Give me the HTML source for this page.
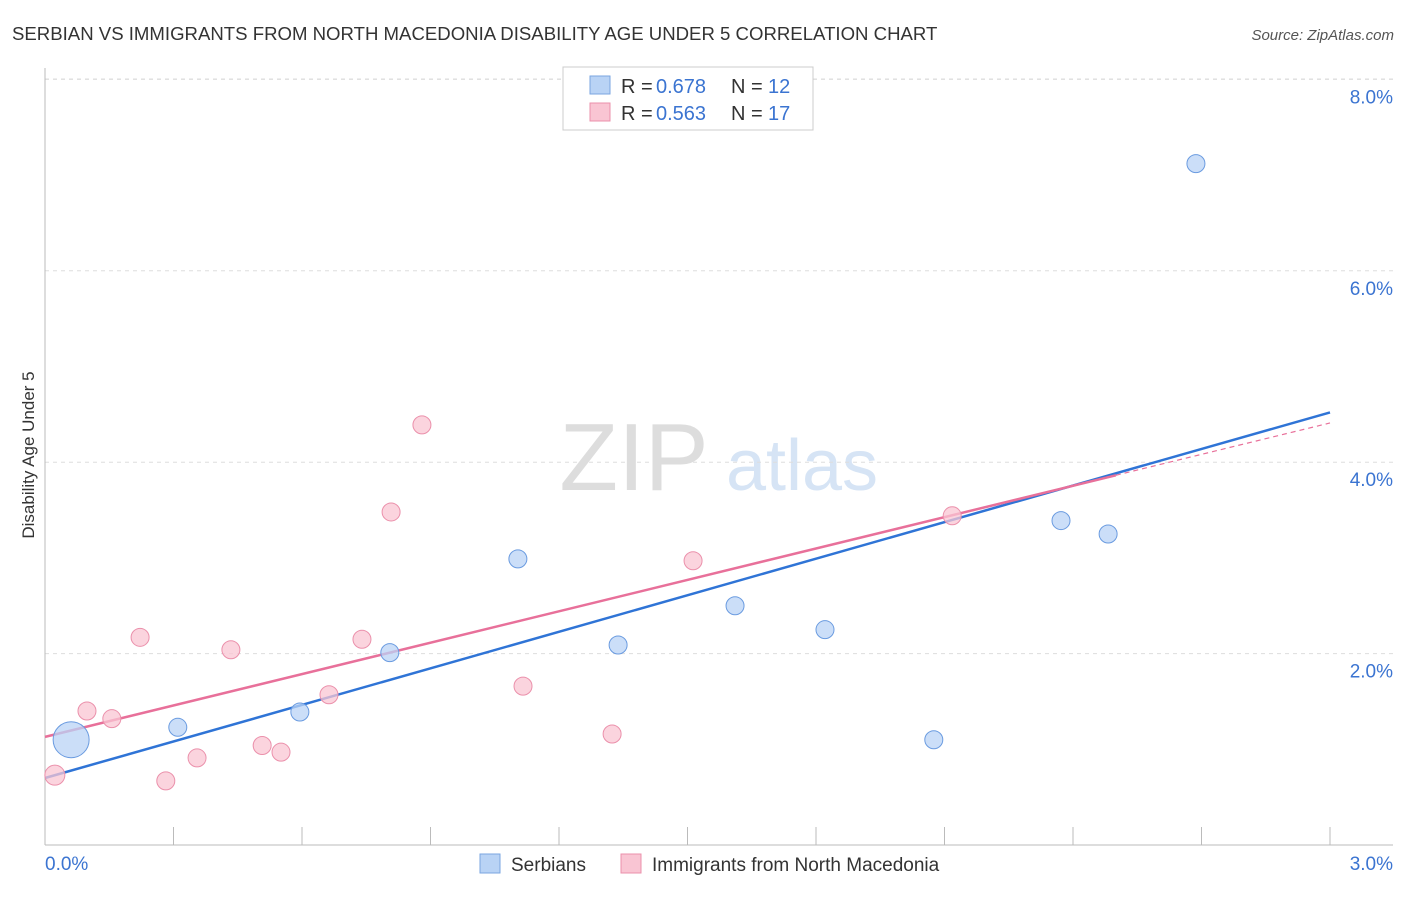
<!DOCTYPE html>
<html><head><meta charset="utf-8"><style>
body{margin:0;background:#fff;font-family:"Liberation Sans",sans-serif;}
svg text{font-family:"Liberation Sans",sans-serif;}
</style></head><body>
<svg id="chart" width="1406" height="892">
<text x="12" y="40" font-size="18.6" fill="#333">SERBIAN VS IMMIGRANTS FROM NORTH MACEDONIA DISABILITY AGE UNDER 5 CORRELATION CHART</text>
<text x="1394" y="40" font-size="15" fill="#555" font-style="italic" text-anchor="end">Source: ZipAtlas.com</text>
<text x="634" y="490" font-size="96" fill="#ddd" font-family="Liberation Serif" text-anchor="middle">ZIP</text>
<text x="802" y="490" font-size="72" fill="#d6e4f5" text-anchor="middle">atlas</text>
<g id="grid"></g>
<g id="axes"></g>
<g id="lines"></g>
<g id="points"></g>
<text x="34" y="455" font-size="17" fill="#333" text-anchor="middle" transform="rotate(-90 34 455)">Disability Age Under 5</text>
<g>
<rect x="563" y="67" width="250" height="63" fill="#fff" stroke="#ccc"/>
<rect x="590" y="76" width="20" height="18" fill="#b9d3f5" stroke="#7aa6e0"/>
<text x="621" y="93" font-size="20" fill="#333">R =</text>
<text x="656" y="93" font-size="20" fill="#3b74d1">0.678</text>
<text x="731" y="93" font-size="20" fill="#333">N =</text>
<text x="768" y="93" font-size="20" fill="#3b74d1">12</text>
<rect x="590" y="103" width="20" height="18" fill="#f9c5d3" stroke="#eb90ab"/>
<text x="621" y="120" font-size="20" fill="#333">R =</text>
<text x="656" y="120" font-size="20" fill="#3b74d1">0.563</text>
<text x="731" y="120" font-size="20" fill="#333">N =</text>
<text x="768" y="120" font-size="20" fill="#3b74d1">17</text>
</g>
<g>
<rect x="480" y="854" width="20" height="19" fill="#b9d3f5" stroke="#7aa6e0"/>
<text x="511" y="871" font-size="19" fill="#333">Serbians</text>
<rect x="621" y="854" width="20" height="19" fill="#f9c5d3" stroke="#eb90ab"/>
<text x="652" y="871" font-size="19" fill="#333">Immigrants from North Macedonia</text>
</g>
</svg>
<script>
const xTicks=[0,0.3,0.6,0.9,1.2,1.5,1.8,2.1,2.4,2.7,3.0];
const yTicks=[2,4,6,8];
const yTickLabels=["2.0%","4.0%","6.0%","8.0%"];
const serbX=[0.061,0.31,0.595,0.805,1.104,1.338,1.611,1.821,2.075,2.372,2.482,2.687];
const serbY=[1.10,1.23,1.39,2.01,2.99,2.09,2.50,2.25,1.10,3.39,3.25,7.12];
const serbR=[18,9,9,9,9,9,9,9,9,9,9,9];
const macX=[0.023,0.098,0.156,0.222,0.282,0.355,0.434,0.507,0.551,0.663,0.740,0.808,0.880,1.116,1.324,1.513,2.118];
const macY=[0.73,1.40,1.32,2.17,0.67,0.91,2.04,1.04,0.97,1.57,2.15,3.48,4.39,1.66,1.16,2.97,3.44];
const macR=[10,9,9,9,9,9,9,9,9,9,9,9,9,9,9,9,9];
const serbTrend=[0.70,4.52];
const macTrend=[1.13,4.41];
const macSolidEnd=2.5;
const X=v=>45+v/3*1285;
const Y=v=>845-v*95.7;
const NS="http://www.w3.org/2000/svg";
function mk(p,t,a){const e=document.createElementNS(NS,t);for(const k in a)e.setAttribute(k,a[k]);p.appendChild(e);return e;}
const grid=document.getElementById('grid'),axes=document.getElementById('axes'),lines=document.getElementById('lines'),pts=document.getElementById('points');
yTicks.forEach((v,i)=>{
 const l=mk(grid,'line',{x1:45,x2:1393,y1:Y(v),y2:Y(v),stroke:'#ddd','stroke-dasharray':'4,4'});
 
 
 const t=mk(axes,'text',{x:1393,y:Y(v)+24,'font-size':19,fill:'#3b74d1','text-anchor':'end'});
 t.textContent=yTickLabels[i];
 
 
});
const topLine=mk(grid,'line',{x1:45,x2:1393,y1:79,y2:79,stroke:'#ddd','stroke-dasharray':'4,4'});


const ya=mk(axes,'line',{x1:45,x2:45,y1:68,y2:845,stroke:'#bbb'});


const xa=mk(axes,'line',{x1:45,x2:1393,y1:845,y2:845,stroke:'#bbb'});


xTicks.forEach(v=>{
 const t=mk(axes,'line',{x1:X(v),x2:X(v),y1:827,y2:845,stroke:'#bbb'});
 
 
});
const xl0=mk(axes,'text',{x:45,y:870,'font-size':19,fill:'#3b74d1'});xl0.textContent='0.0%';


const xl1=mk(axes,'text',{x:1393,y:870,'font-size':19,fill:'#3b74d1','text-anchor':'end'});xl1.textContent='3.0%';


macX.forEach((x,i)=>{
 const c=mk(pts,'circle',{cx:X(x),cy:Y(macY[i]),r:macR[i],fill:'#f9c5d3','fill-opacity':0.75,stroke:'#eb90ab'});
 
 
});
serbX.forEach((x,i)=>{
 const c=mk(pts,'circle',{cx:X(x),cy:Y(serbY[i]),r:serbR[i],fill:'#b9d3f5','fill-opacity':0.75,stroke:'#6a9be0'});
 
 
});
const sl=mk(lines,'line',{x1:X(0),y1:Y(serbTrend[0]),x2:X(3),y2:Y(serbTrend[1]),stroke:'#2f74d6','stroke-width':2.5});


const my=x=>macTrend[0]+(macTrend[1]-macTrend[0])*x/3;
const ml=mk(lines,'line',{x1:X(0),y1:Y(my(0)),x2:X(macSolidEnd),y2:Y(my(macSolidEnd)),stroke:'#e8709a','stroke-width':2.5});


const md=mk(lines,'line',{x1:X(macSolidEnd),y1:Y(my(macSolidEnd)),x2:X(3),y2:Y(my(3)),stroke:'#e8709a','stroke-width':1.2,'stroke-dasharray':'5,4'});


</script>
</body></html>
